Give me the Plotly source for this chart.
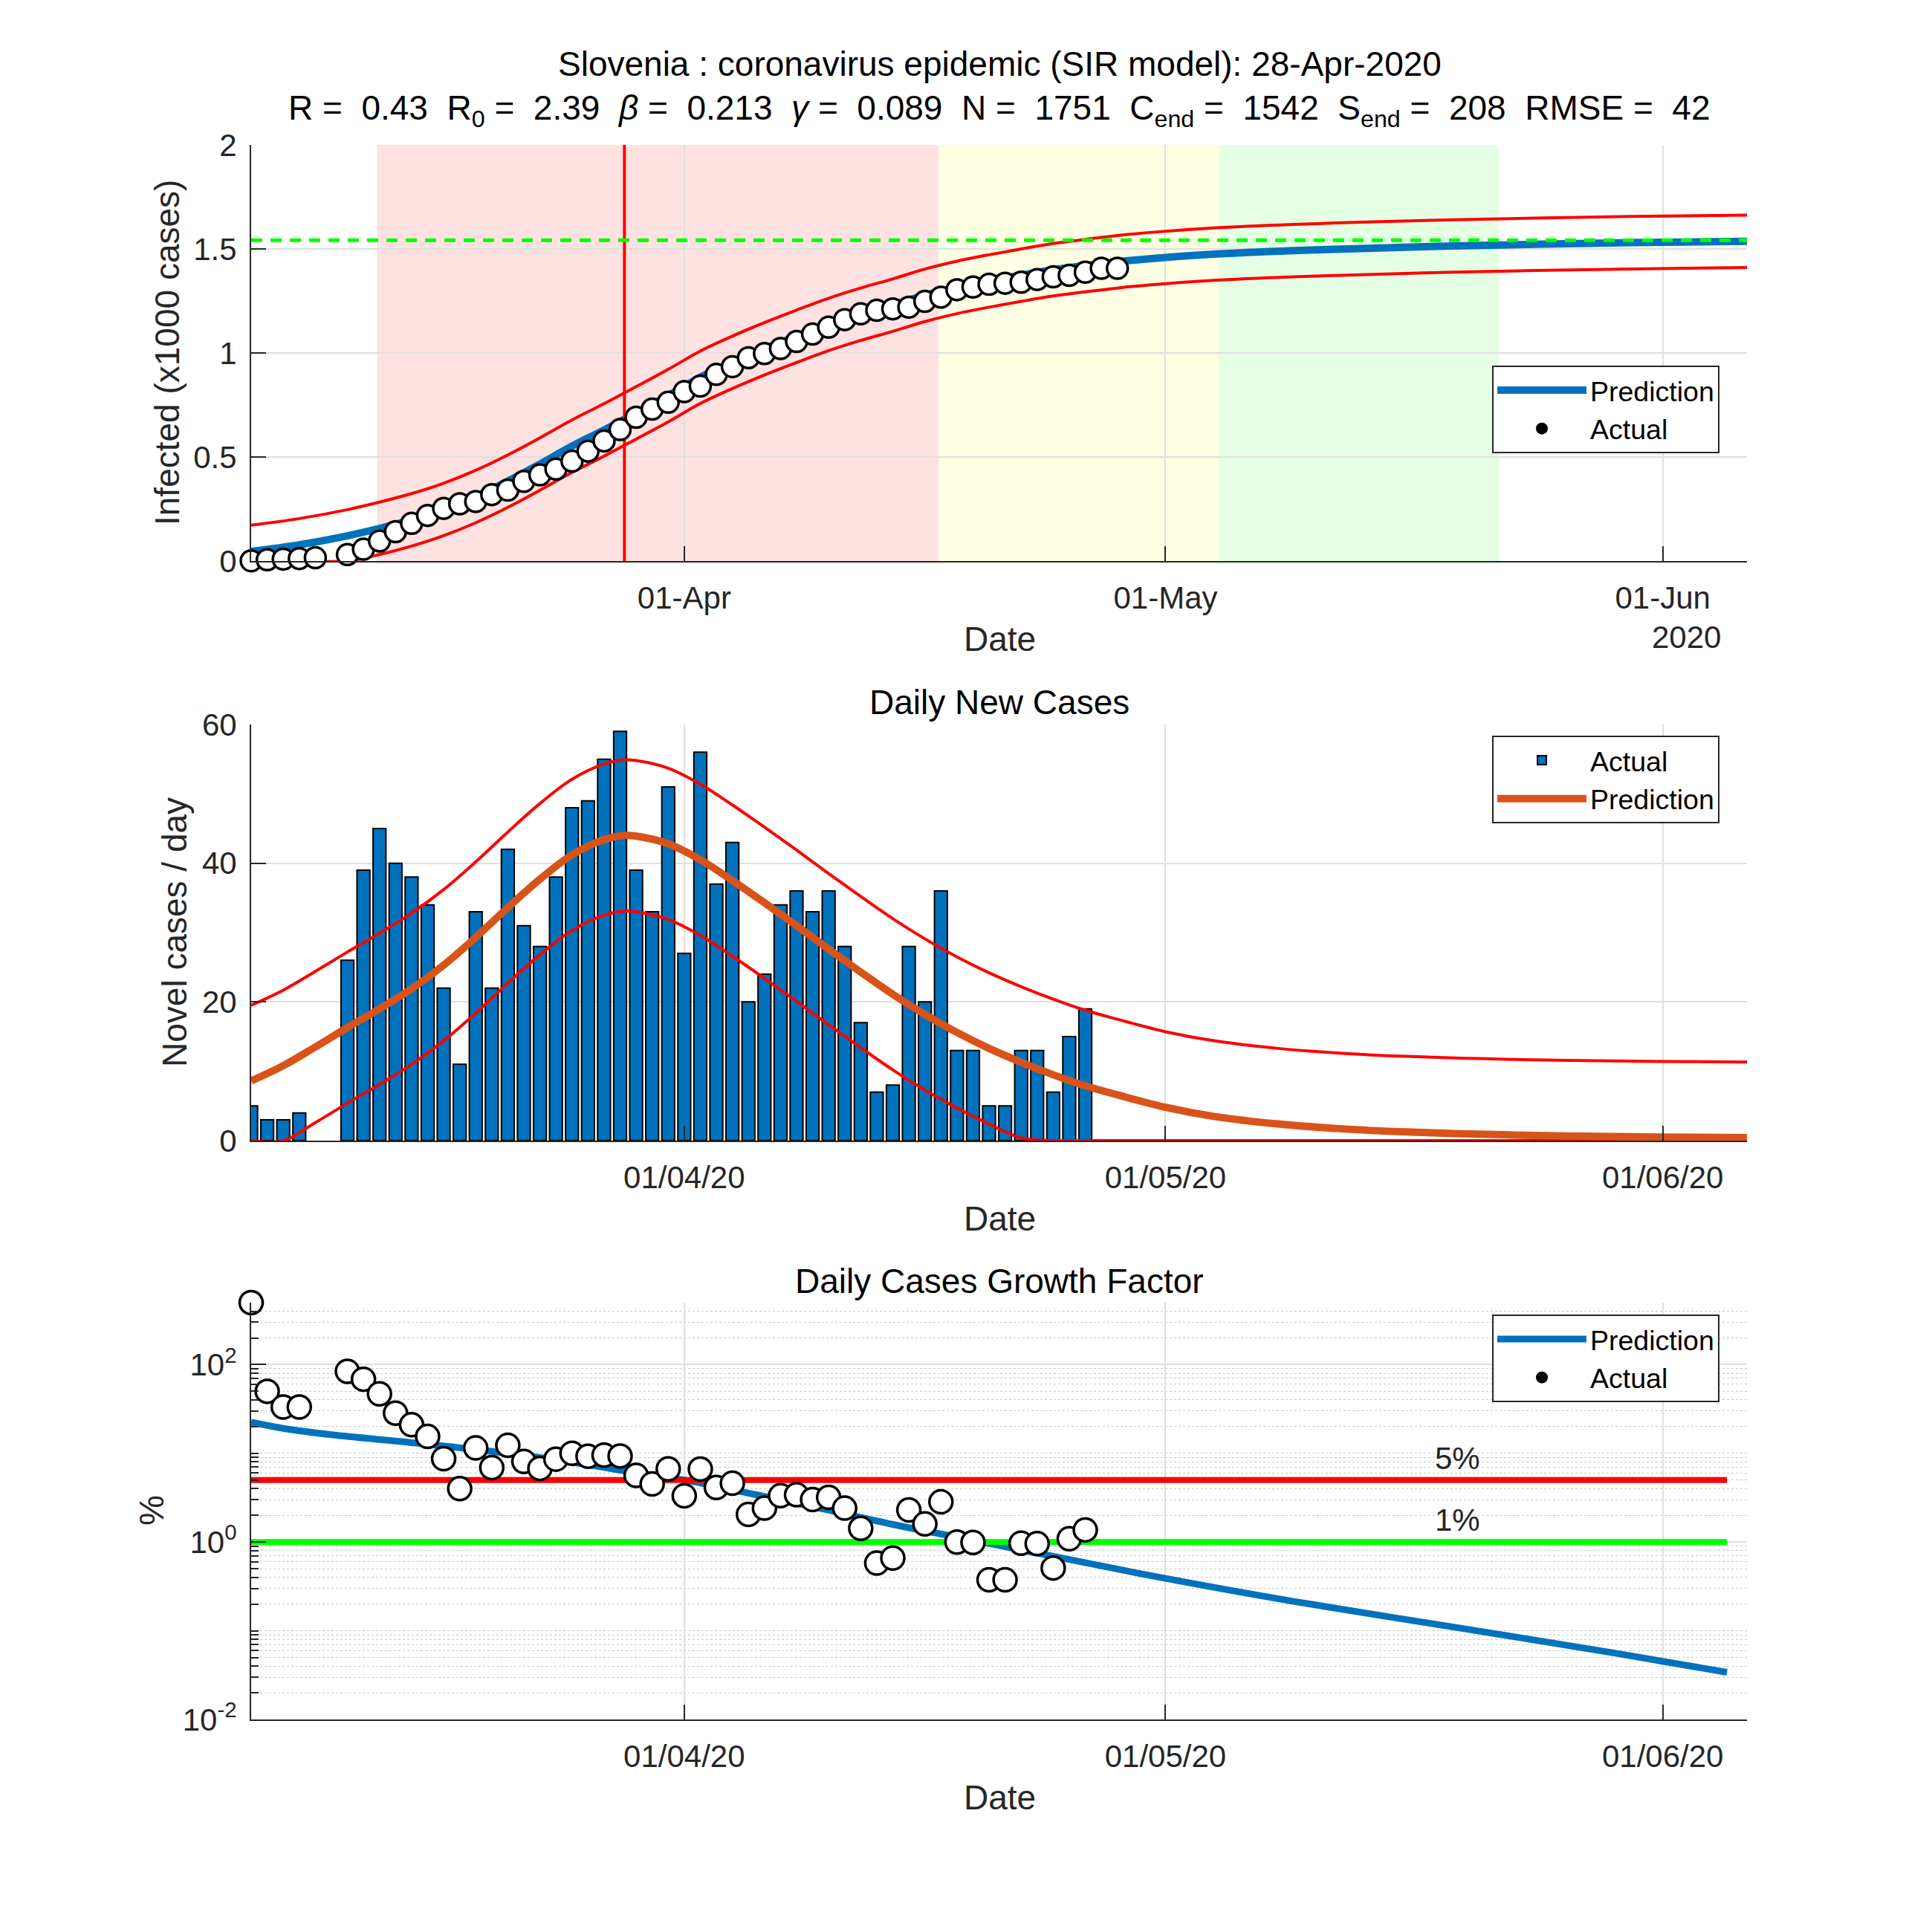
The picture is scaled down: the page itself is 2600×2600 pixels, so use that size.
import math
import pandas as pd
import plotly.graph_objects as go

# ---------------- data ----------------
START = pd.Timestamp("2020-03-05")
X_END_DAY = 93.25

obs_day = list(range(55))
cumulative_cases = [1, 6, 9, 12, 16, None, 31, 57, 96, 141, 181, 219, 253, 275, 286,
                    319, 341, 383, 414, 442, 480, 528, 577, 632, 691, 730, 763, 814, 841,
                    897, 934, 977, 997, 1021, 1055, 1091, 1124, 1160, 1188, 1205, 1212,
                    1220, 1248, 1268, 1304, 1317, 1330, 1335, 1340, 1353, 1366, 1373,
                    1388, 1407, 1407]

new_day = list(range(53))
daily_new_cases = [5, 3, 3, 4, None, None, 26, 39, 45, 40, 38, 34, 22, 11, 33, 22, 42,
                   31, 28, 38, 48, 49, 55, 59, 39, 33, 51, 27, 56, 37, 43, 20, 24, 34,
                   36, 33, 36, 28, 17, 7, 8, 28, 20, 36, 13, 13, 5, 5, 13, 13, 7, 15, 19]

growth_pct = [500, 50, 33.3, 33.3, None, None, 83.9, 68.4, 46.9, 28.4, 21.0, 15.5, 8.70,
              4.00, 11.5, 6.90, 12.3, 8.09, 6.76, 8.60, 10.0, 9.28, 9.53, 9.34, 5.64, 4.52,
              6.68, 3.32, 6.66, 4.12, 4.60, 2.05, 2.41, 3.33, 3.41, 3.02, 3.20, 2.41, 1.43,
              0.58, 0.66, 2.30, 1.60, 2.84, 1.00, 0.99, 0.376, 0.375, 0.97, 0.96, 0.51,
              1.09, 1.37]

pred_day_top = [0, 3, 6, 8, 10, 12, 14, 16, 18, 20, 22, 24, 26, 28, 30, 32, 34, 36, 38, 40,
                42, 44, 46, 48, 50, 52, 54, 56, 60, 65, 70, 75, 80, 86, 94]
pred_cum_k = [0.046, 0.078, 0.121, 0.157, 0.198, 0.248, 0.310, 0.384, 0.466, 0.552,
              0.630, 0.712, 0.795, 0.883, 0.955, 1.020, 1.080, 1.137, 1.186, 1.230,
              1.277, 1.315, 1.346, 1.374, 1.400, 1.420, 1.438, 1.453, 1.475, 1.492,
              1.504, 1.514, 1.522, 1.530, 1.537]
pred_cum_upper_k = [0.172, 0.204, 0.247, 0.283, 0.324, 0.374, 0.436, 0.510, 0.592, 0.678,
                    0.756, 0.838, 0.921, 1.009, 1.081, 1.146, 1.206, 1.263, 1.312, 1.356,
                    1.403, 1.441, 1.472, 1.500, 1.526, 1.546, 1.564, 1.579, 1.601, 1.618,
                    1.630, 1.640, 1.648, 1.656, 1.663]
pred_cum_lower_k = [0, 0, 0, 0.031, 0.072, 0.122, 0.184, 0.258, 0.340, 0.426,
                    0.504, 0.586, 0.669, 0.757, 0.829, 0.894, 0.954, 1.011, 1.060, 1.104,
                    1.151, 1.189, 1.220, 1.248, 1.274, 1.294, 1.312, 1.327, 1.349, 1.366,
                    1.378, 1.388, 1.396, 1.404, 1.411]

pred_day_mid = [0, 2, 4, 6, 8, 10, 12, 14, 16, 18, 20, 22, 23.3, 24, 26, 28, 30, 32, 34,
                36, 38, 40, 42, 44, 46, 48, 50, 52, 54, 57, 60, 64, 68, 72, 77, 82, 88, 94]
pred_new = [8.6, 10.8, 13.5, 16.3, 19.0, 21.9, 25.3, 29.3, 33.6, 37.7, 41.2, 43.4, 44.0,
            43.9, 42.8, 40.5, 37.5, 34.3, 31.0, 27.6, 24.3, 21.1, 18.2, 15.6, 13.3, 11.3,
            9.5, 7.9, 6.6, 4.8, 3.5, 2.4, 1.7, 1.25, 0.9, 0.68, 0.52, 0.42]
pred_new_upper = [19.5, 21.7, 24.4, 27.2, 29.9, 32.8, 36.2, 40.2, 44.5, 48.6, 52.1, 54.3,
                  54.9, 54.8, 53.7, 51.4, 48.4, 45.2, 41.9, 38.5, 35.2, 32.0, 29.1, 26.5,
                  24.2, 22.2, 20.4, 18.8, 17.5, 15.7, 14.4, 13.3, 12.6, 12.15, 11.8, 11.58,
                  11.42, 11.32]
pred_new_lower = [0, 0, 2.6, 5.4, 8.1, 11.0, 14.4, 18.4, 22.7, 26.8, 30.3, 32.5, 33.1,
                  33.0, 31.9, 29.6, 26.6, 23.4, 20.1, 16.7, 13.4, 10.2, 7.3, 4.7, 2.4, 0.4,
                  0, 0, 0, 0, 0, 0, 0, 0, 0, 0, 0, 0]

pred_day_growth = [0, 2, 5, 10, 15, 20, 24, 27, 30, 35, 40, 45.6, 50, 57, 65, 75.4, 85, 92]
pred_growth_pct = [22.4, 19.1, 16.2, 13.2, 10.5, 7.94, 6.03, 5.01, 3.89, 2.51, 1.58, 1.0,
                   0.69, 0.389, 0.214, 0.107, 0.056, 0.034]

phase_start_day = [7.85, 42.85, 60.35]
phase_end_day = [42.85, 60.35, 77.8]
phase_colors = ["rgb(254,226,226)", "rgb(255,255,228)", "rgb(228,255,228)"]
peak_day = 23.27
final_size_k = 1.542
threshold_pct = [5, 1]
threshold_text = ["5%", "1%"]
threshold_colors = ["#FF0000", "#00FF00"]
threshold_end_day = 92
threshold_label_day = 73.7

title_line1 = "Slovenia : coronavirus epidemic (SIR model): 28-Apr-2020"
title_line2 = ("R =\u00a0 0.43\u00a0 R<sub>0</sub> =\u00a0 2.39\u00a0 <i>β</i> =\u00a0 0.213\u00a0 "
               "<i>γ</i> =\u00a0 0.089\u00a0 N =\u00a0 1751\u00a0 C<sub>end</sub> =\u00a0 1542\u00a0 "
               "S<sub>end</sub> =\u00a0 208\u00a0 RMSE =\u00a0 42")

log_tick_vals = [0.01, 1, 100]
log_tick_text = ["10<sup>-2</sup>", "10<sup>0</sup>", "10<sup>2</sup>"]

# ---------------- helpers ----------------
def to_dates(days):
    return [START + pd.Timedelta(days=float(d)) for d in days]

FONT = "Liberation Sans, Arial, Helvetica, sans-serif"
AX = "#262626"
GRID = "rgb(223,223,223)"
BLUE = "#0072BD"
ORANGE = "#D95319"
RED = "#FF0000"
W, H = 2600, 2600
OFF = 8          # page margin of the html body
TICK_FS = 42
LABEL_FS = 46
LEGEND_FS = 37.5

x_end = START + pd.Timedelta(days=X_END_DAY)

fig = go.Figure()

# ---------------- top: cumulative ----------------
fig.add_trace(go.Scatter(x=to_dates(pred_day_top), y=pred_cum_k, mode="lines",
                         line=dict(color=BLUE, width=10, shape="spline"),
                         name="Prediction", legend="legend", xaxis="x", yaxis="y"))
for arr in (pred_cum_upper_k, pred_cum_lower_k):
    fig.add_trace(go.Scatter(x=to_dates(pred_day_top), y=arr, mode="lines",
                             line=dict(color=RED, width=4, shape="spline"),
                             showlegend=False, xaxis="x", yaxis="y"))
fig.add_trace(go.Scatter(x=to_dates([peak_day, peak_day]), y=[0, 2], mode="lines",
                         line=dict(color=RED, width=4), showlegend=False,
                         xaxis="x", yaxis="y"))
fig.add_trace(go.Scatter(x=[START, x_end], y=[final_size_k, final_size_k], mode="lines",
                         line=dict(color="#00FF00", width=5, dash="15px,11px"),
                         showlegend=False, xaxis="x", yaxis="y"))
fig.add_trace(go.Scatter(x=to_dates(obs_day),
                         y=[None if c is None else c / 1000 for c in cumulative_cases],
                         mode="markers", cliponaxis=False,
                         marker=dict(size=28, color="white", line=dict(color="black", width=3.5)),
                         showlegend=False, xaxis="x", yaxis="y"))
fig.add_trace(go.Scatter(x=[None], y=[None], mode="markers", name="Actual",
                         marker=dict(size=22, color="black"), legend="legend",
                         xaxis="x", yaxis="y"))

# ---------------- middle: daily new cases ----------------
fig.add_trace(go.Bar(x=to_dates(new_day), y=daily_new_cases, name="Actual",
                     width=0.8 * 86400000, marker=dict(color=BLUE, line=dict(color="black", width=2)),
                     legend="legend2", xaxis="x2", yaxis="y2"))
for arr in (pred_new_upper, pred_new_lower):
    fig.add_trace(go.Scatter(x=to_dates(pred_day_mid), y=arr, mode="lines",
                             line=dict(color=RED, width=4, shape="spline"),
                             showlegend=False, xaxis="x2", yaxis="y2"))
fig.add_trace(go.Scatter(x=to_dates(pred_day_mid), y=pred_new, mode="lines",
                         line=dict(color=ORANGE, width=10, shape="spline"),
                         name="Prediction", legend="legend2", xaxis="x2", yaxis="y2"))

# ---------------- bottom: growth factor ----------------
fig.add_trace(go.Scatter(x=to_dates(pred_day_growth), y=pred_growth_pct, mode="lines",
                         line=dict(color=BLUE, width=9, shape="spline"),
                         name="Prediction", legend="legend3", xaxis="x3", yaxis="y3"))
for val, col in zip(threshold_pct, threshold_colors):
    fig.add_trace(go.Scatter(x=to_dates([0, threshold_end_day]), y=[val, val], mode="lines",
                             line=dict(color=col, width=8), showlegend=False,
                             xaxis="x3", yaxis="y3"))
fig.add_trace(go.Scatter(x=to_dates(new_day), y=growth_pct, mode="markers", cliponaxis=False,
                         marker=dict(size=31, color="white", line=dict(color="black", width=3.5)),
                         showlegend=False, xaxis="x3", yaxis="y3"))
fig.add_trace(go.Scatter(x=[None], y=[None], mode="markers", name="Actual",
                         marker=dict(size=22, color="black"), legend="legend3",
                         xaxis="x3", yaxis="y3"))

# ---------------- phase shading ----------------
shapes = []
for s, e, c in zip(phase_start_day, phase_end_day, phase_colors):
    shapes.append(dict(type="rect", xref="x", yref="y domain",
                       x0=START + pd.Timedelta(days=s), x1=START + pd.Timedelta(days=e),
                       y0=0, y1=1, fillcolor=c, line=dict(width=0), layer="below"))

# ---------------- axes ----------------
def px_x(p):
    return (p - OFF) / W

def px_y(p):
    return 1 - (p - OFF) / H

xdom = [px_x(338), px_x(2351)]
def ydom(top_px, bot_px):
    return [px_y(bot_px), px_y(top_px)]

def xaxis_cfg(fmt, anchor):
    return dict(type="date", domain=xdom, anchor=anchor, range=[START, x_end],
                tick0="2020-04-01", dtick="M1", tickformat=fmt, automargin=False,
                ticks="inside", ticklen=20, tickwidth=2, tickcolor=AX,
                showline=True, linecolor=AX, linewidth=2, mirror=False,
                showgrid=True, gridcolor=GRID, gridwidth=2, zeroline=False,
                tickfont=dict(family=FONT, size=TICK_FS, color=AX), ticklabelstandoff=12)

def yaxis_common(anchor):
    return dict(anchor=anchor, ticks="inside", ticklen=20, tickwidth=2, tickcolor=AX,
                showline=True, linecolor=AX, linewidth=2, showgrid=True, gridcolor=GRID,
                gridwidth=2, zeroline=False, automargin=False,
                tickfont=dict(family=FONT, size=TICK_FS, color=AX), ticklabelstandoff=9)

minor_vals = []
for d in range(-2, 3):
    for k in range(1, 10):
        v = k * 10 ** d
        if v <= 500 and not any(abs(v - t) < 1e-12 for t in log_tick_vals):
            minor_vals.append(v)

legend_common = dict(x=px_x(2314), xanchor="right", bgcolor="white", bordercolor=AX,
                     borderwidth=2, font=dict(family=FONT, size=LEGEND_FS, color="black"),
                     itemwidth=120, tracegroupgap=0)

fig.update_layout(
    width=W, height=H, autosize=False,
    margin=dict(l=0, r=0, t=0, b=0, pad=0, autoexpand=False),
    paper_bgcolor="white", plot_bgcolor="white",
    font=dict(family=FONT, color=AX),
    barmode="overlay",
    xaxis=xaxis_cfg("%d-%b", "y"),
    yaxis=dict(domain=ydom(195, 755), range=[0, 2], dtick=0.5, **yaxis_common("x")),
    xaxis2=xaxis_cfg("%d/%m/%y", "y2"),
    yaxis2=dict(domain=ydom(975, 1535), range=[0, 60], dtick=20, **yaxis_common("x2")),
    xaxis3=xaxis_cfg("%d/%m/%y", "y3"),
    yaxis3=dict(domain=ydom(1753, 2314), type="log", range=[-2, math.log10(500)],
                tickmode="array", tickvals=log_tick_vals, ticktext=log_tick_text,
                minor=dict(tickmode="array", tickvals=minor_vals, ticks="inside", ticklen=10,
                           tickcolor=AX, showgrid=True, gridcolor="rgb(200,200,200)",
                           griddash="dot", gridwidth=1),
                **yaxis_common("x3")),
    legend=dict(y=px_y(492), yanchor="top", **legend_common),
    legend2=dict(y=px_y(990), yanchor="top", **legend_common),
    legend3=dict(y=px_y(1769), yanchor="top", **legend_common),
    shapes=shapes,
    showlegend=True,
)

ann = []
def text(x_px, y_px, s, size=LABEL_FS, color="black", angle=0, xanchor="center"):
    ann.append(dict(x=px_x(x_px), y=px_y(y_px), xref="paper", yref="paper", text=s,
                    showarrow=False, xanchor=xanchor, yanchor="middle", textangle=angle,
                    font=dict(family=FONT, size=size, color=color)))

text(1345, 86, title_line1)
text(1345, 148, title_line2)
text(1345, 945, "Daily New Cases")
text(1345, 1724, "Daily Cases Growth Factor")
for y in (860, 1640, 2419):
    text(1345, y, "Date", color=AX)
text(2318, 857, "2020", size=TICK_FS, color=AX, xanchor="right")
text(225, 475, "Infected (x1000 cases)", color=AX, angle=-90)
text(235, 1255, "Novel cases / day", color=AX, angle=-90)
text(204, 2033, "%", color=AX, angle=-90)

for val, lab in zip(threshold_pct, threshold_text):
    ann.append(dict(x=START + pd.Timedelta(days=threshold_label_day), y=math.log10(val),
                    xref="x3", yref="y3", text=lab, showarrow=False, xanchor="left",
                    yanchor="bottom", yshift=4, font=dict(family=FONT, size=TICK_FS, color=AX)))

fig.update_layout(annotations=ann)

fig.write_html("out.html")
